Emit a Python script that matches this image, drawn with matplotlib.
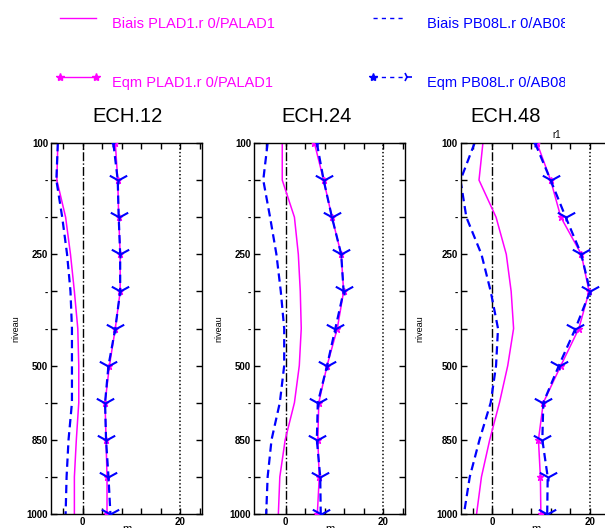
import matplotlib
matplotlib.use("Agg")
import matplotlib.pyplot as plt
from matplotlib.path import Path

plt.rcParams['font.family'] = ['Liberation Sans', 'DejaVu Sans']
plt.rcParams['lines.scale_dashes'] = False

# Pressure levels (hPa) and their axis labels
levels = [100, 150, 200, 250, 300, 400, 500, 700, 850, 925, 1000]
level_labels = ['100', '-', '-', '250', '-', '-', '500', '-', '850', '-', '1000']
echeances = ['ECH.12', 'ECH.24', 'ECH.48']

# Bias profiles (m)
biais_plad = [
    [-5.1, -5.3, -3.5, -2.5, -1.7, -1.0, -0.8, -0.8, -1.3, -1.7, -1.7],
    [-0.7, -0.7, 1.8, 2.6, 3.0, 3.2, 2.8, 1.8, -0.1, -1.2, -1.5],
    [-1.9, -2.7, 0.8, 2.9, 3.9, 4.4, 3.2, 1.5, -0.5, -2.2, -3.2],
]
biais_pb08 = [
    [-5.1, -5.4, -4.2, -3.2, -2.5, -2.2, -2.2, -2.2, -2.9, -3.3, -3.5],
    [-3.7, -4.6, -3.2, -1.9, -1.0, -0.3, -0.3, -1.2, -2.9, -3.7, -4.0],
    [-3.6, -6.5, -5.3, -2.2, -0.3, 1.2, 0.8, -0.3, -2.6, -4.6, -5.8],
]
# RMS error profiles (m)
eqm_plad = [
    [6.7, 7.2, 7.4, 7.7, 7.7, 6.7, 5.5, 4.6, 4.8, 5.0, 5.0],
    [5.9, 7.8, 9.5, 11.4, 11.9, 10.6, 8.5, 6.8, 6.6, 6.9, 6.5],
    [9.2, 12.0, 14.1, 18.3, 19.9, 17.8, 14.1, 10.5, 9.5, 9.9, 10.0],
]
eqm_pb08 = [
    [6.3, 7.2, 7.4, 7.7, 7.7, 6.7, 5.3, 4.6, 4.8, 5.3, 5.7],
    [6.4, 7.8, 9.5, 11.4, 11.9, 10.2, 8.5, 6.6, 6.4, 7.1, 7.2],
    [8.8, 12.0, 15.1, 18.3, 20.1, 17.1, 13.7, 10.5, 10.3, 11.4, 11.3],
]

MAG = '#ff00ff'
BLU = '#0000ff'
W, H = 605, 528

# Y-shaped marker used on the PB08 RMS curve
y_marker = Path([(-1, 0.55), (0, 0), (1, 0.55), (0, 0), (0, -0.45)],
                [Path.MOVETO, Path.LINETO, Path.LINETO, Path.MOVETO, Path.LINETO])

fig = plt.figure(figsize=(W / 100, H / 100), dpi=100)

panel_left = [51, 254, 460.5]
panel_w, top_px, bot_px = 151, 143, 514
ylabel_x = [-0.20, -0.20, -0.24]
title_x = [127, 317, 506]
idx = list(range(len(levels)))

for k in range(3):
    ax = fig.add_axes([panel_left[k] / W, 1 - bot_px / H, panel_w / W, (bot_px - top_px) / H])
    ax.axvline(0, color='black', linestyle='-.', lw=1.0, zorder=1)
    ax.axvline(20, color='black', linestyle=':', lw=1.1, zorder=1)
    ax.plot(biais_plad[k], idx, color=MAG, lw=1.1, zorder=2)
    ax.plot(biais_pb08[k], idx, color=BLU, lw=1.6, dashes=(6, 3.5), zorder=2)
    ax.plot(eqm_plad[k], idx, color=MAG, lw=1.1, marker='*', ms=5, mec=MAG, mfc=MAG, zorder=3)
    ax.plot(eqm_pb08[k], idx, color=BLU, lw=1.6, dashes=(6, 3.5), zorder=4)
    ax.plot(eqm_pb08[k], idx, linestyle='none', marker=y_marker, ms=12.5, mew=1.5,
            mec=BLU, mfc='none', zorder=5)
    ax.set_xlim(-6.5, 24.5)
    ax.set_ylim(10, 0)
    ax.set_xticks([-4, 0, 4, 8, 12, 16, 20, 24])
    ax.set_xticklabels(['', '0', '', '', '', '', '20', ''])
    ax.set_yticks(idx)
    ax.set_yticklabels(level_labels)
    ax.tick_params(direction='in', length=4.5, width=1, top=True, right=True,
                   labelsize=7, pad=2)
    for lab in ax.get_xticklabels() + ax.get_yticklabels():
        lab.set_fontweight('bold')
    for s in ax.spines.values():
        s.set_linewidth(1.0)
    ax.set_ylabel('niveau', fontsize=6.5)
    ax.yaxis.set_label_coords(ylabel_x[k], 0.5)
    fig.text(title_x[k] / W, 1 - 117 / H, echeances[k], fontsize=14.5,
             ha='center', va='center')
    fig.text((panel_left[k] + panel_w / 2) / W, 1 - 524 / H, 'm', fontsize=8,
             ha='center', va='top')

fig.text(557 / W, 1 - 135 / H, 'r1', fontsize=7, ha='center', va='center')

# Legend block across the top
lg = fig.add_axes([0, 1 - 110 / H, 565 / W, 110 / H])
lg.set_xlim(0, 565)
lg.set_ylim(110, 0)
lg.axis('off')
lg.plot([60, 96], [18, 18], color=MAG, lw=1.0)
lg.text(112, 24, 'Biais PLAD1.r 0/PALAD1', color=MAG, fontsize=10.5, va='center', clip_on=True)
lg.plot([373, 403], [18, 18], color=BLU, lw=1.0, dashes=(3, 3))
lg.text(427, 24, 'Biais PB08L.r 0/AB08L.r 0', color=BLU, fontsize=10.5, va='center', clip_on=True)
lg.plot([60, 96], [77, 77], color=MAG, lw=1.0, marker='*', ms=6, mec=MAG, mfc=MAG)
lg.text(112, 83, 'Eqm PLAD1.r 0/PALAD1', color=MAG, fontsize=10.5, va='center', clip_on=True)
lg.plot([373, 407], [77, 77], color=BLU, lw=1.0, dashes=(3, 3))
lg.plot([373], [77], color=BLU, marker='*', ms=6, linestyle='none')
lg.plot([407], [77], color=BLU, marker='4', ms=7, mew=1.2, linestyle='none')
lg.text(427, 83, 'Eqm PB08L.r 0/AB08L.r 0', color=BLU, fontsize=10.5, va='center', clip_on=True)

fig.savefig('out.png', dpi=100)
